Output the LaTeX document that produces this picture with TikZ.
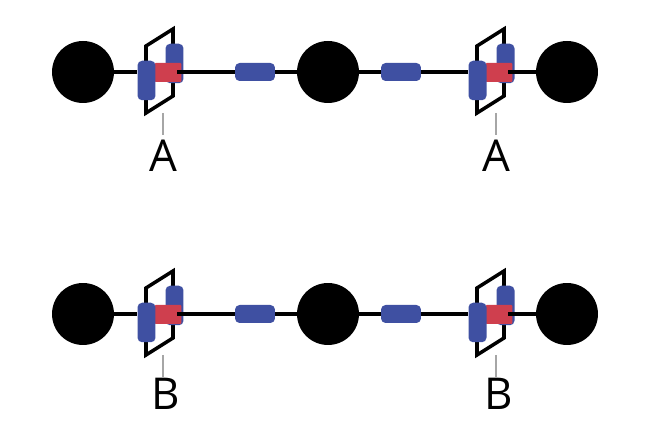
\documentclass[tikz,border=0pt]{standalone}
\usepackage{fontspec}
\setmainfont{Open Sans}
\definecolor{barblue}{HTML}{3F50A2}
\definecolor{dockred}{HTML}{CF3F4E}
\tikzset{
    ball/.style={circle,fill=black,inner sep=0pt,minimum size=1.24cm},
    bar/.style={rectangle,rounded corners=2.6pt,fill=barblue,inner sep=0pt},
    longbar/.style={bar,minimum width=0.36cm,minimum height=0.79cm},
    midbar/.style={bar,minimum width=0.8cm,minimum height=0.36cm},
    dock/.style={rectangle,rounded corners=0.6pt,fill=dockred,inner sep=0pt,minimum width=0.54cm,minimum height=0.38cm},
    wire/.style={line width=2pt},
    frame/.style={line width=2pt,line join=miter},
    tick/.style={gray!70,line width=0.6pt},
    letter/.style={anchor=base,inner sep=0pt,font=\fontsize{25}{25}\selectfont}
}
\begin{document}
\begin{tikzpicture}[x=0.02cm,y=-0.02cm]
    \useasboundingbox (0,0) rectangle (650,438);

    \foreach \row/\y/\name/\shift/\base in {a/72/A/0/100,b/314/B/3/96}{
        % Membrane frames
        \foreach \site/\x in {l/0,r/331}{
            \draw[frame,shift={(\x,\y)}] (146,-26) -- (173,-43) -- (173,24) -- (146,41) -- cycle;
        }

        % Balls
        \node[ball] (\row left) at (83,\y) {};
        \node[ball] (\row mid) at (328,\y) {};
        \node[ball] (\row right) at (567,\y) {};

        % Bars in the middle
        \node[midbar] (\row bar1) at (255,\y) {};
        \node[midbar] (\row bar2) at (401,\y) {};

        % Docking sites
        \foreach \site/\x/\off in {l/0/0,r/331/2}{
            \node[longbar] (\row\site back) at (174.5+\x,\y-8.5) {};
            \node[dock] (\row\site dock) at (168+\x,\y+0.5) {};
            \node[longbar] (\row\site front) at (146.5+\x,\y+8.5) {};
            \coordinate (\row\site end) at (177+\x,\y);
            \coordinate (\row\site foot) at (163+\x+\off,\y+41);
            \coordinate (\row\site stem) at (163+\x+\off,\y+63);
            \node[letter] (\row\site label) at (163+\shift+\x+\off,\y+\base) {\name};
            \draw[tick] (\row\site foot) -- (\row\site stem);
        }

        % Connectors
        \draw[wire] (\row left) -- (\row lfront.west |- \row left);
        \draw[wire] (\row lend) -- (\row bar1);
        \draw[wire] (\row bar1) -- (\row mid);
        \draw[wire] (\row mid) -- (\row bar2);
        \draw[wire] (\row bar2) -- (\row rfront.west |- \row mid);
        \draw[wire] (\row rend) -- (\row right);
    }
\end{tikzpicture}
\end{document}
